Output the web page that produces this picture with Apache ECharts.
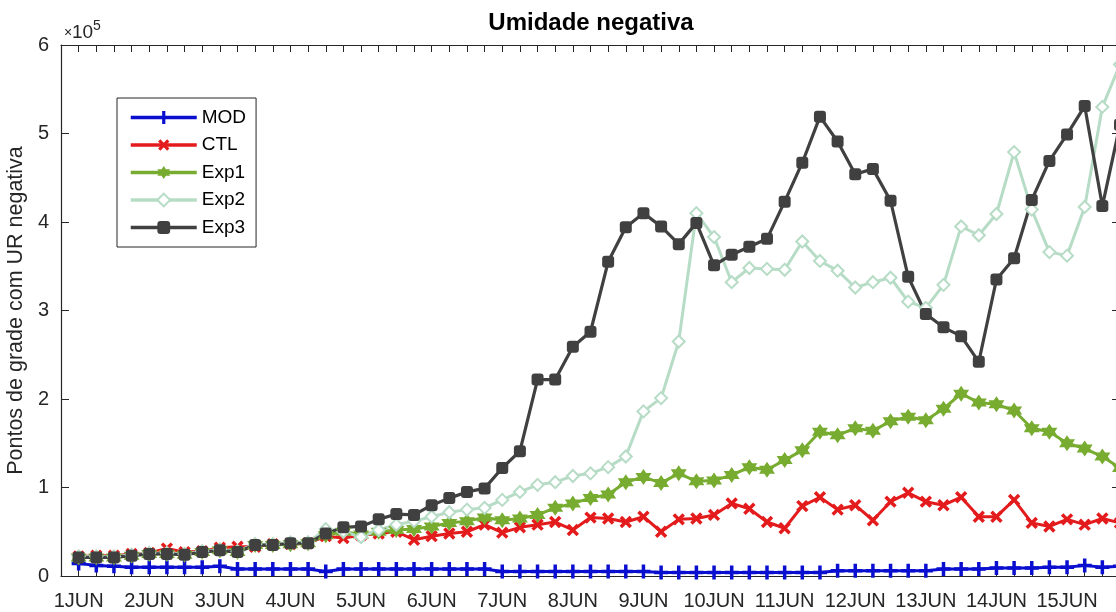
<!DOCTYPE html>
<html>
<head>
<meta charset="utf-8">
<title>Umidade negativa</title>
<script src="https://cdn.jsdelivr.net/npm/echarts@6/dist/echarts.min.js"></script>
<style>
  html, body { margin: 0; padding: 0; background: #fff; overflow: hidden; }
  #main { width: 1130px; height: 612px; }
</style>
</head>
<body>
<div id="main"></div>
<script>
// Day labels, one every 4 six-hourly steps (00Z of each day)
const dayLabels = ['1JUN', '2JUN', '3JUN', '4JUN', '5JUN', '6JUN', '7JUN', '8JUN',
  '9JUN', '10JUN', '11JUN', '12JUN', '13JUN', '14JUN', '15JUN'];

// Grid points with negative relative humidity, every 6 h (1JUN 00Z .. 15JUN 18Z)
const mod = [14000, 12000, 11000, 10000, 10000, 10000, 10000, 10000, 11000, 8000,
  8000, 8000, 8000, 8000, 5000, 8000, 8000, 8000, 8000, 8000,
  8000, 8000, 8000, 8000, 5000, 5000, 5000, 5000, 5000, 5000,
  5000, 5000, 5000, 4000, 4000, 4000, 4000, 4000, 4000, 4000,
  4000, 4000, 4000, 6000, 6000, 6000, 6000, 6000, 6000, 8000,
  8000, 8000, 9000, 9000, 9000, 10000, 10000, 12000, 10000, 11000];

const ctl = [22000, 23000, 23000, 25000, 26000, 31000, 27000, 28000, 32000, 33000,
  33000, 36000, 36000, 37000, 45000, 43000, 46000, 48000, 50000, 41000,
  45000, 48000, 50000, 58000, 49000, 55000, 58000, 61000, 52000, 66000,
  65000, 61000, 67000, 50000, 64000, 65000, 69000, 82000, 76000, 61000,
  54000, 79000, 89000, 75000, 80000, 63000, 84000, 94000, 84000, 80000,
  89000, 67000, 67000, 86000, 60000, 56000, 64000, 58000, 65000, 60000];

const exp1 = [21000, 21000, 21000, 23000, 25000, 25000, 24000, 27000, 29000, 27000,
  35000, 35000, 36000, 37000, 46000, 50000, 47000, 50000, 52000, 53000,
  56000, 60000, 62000, 66000, 63000, 65000, 69000, 77000, 82000, 88000,
  92000, 106000, 112000, 105000, 116000, 107000, 108000, 114000, 123000, 120000,
  131000, 142000, 163000, 159000, 167000, 164000, 175000, 180000, 176000, 189000,
  206000, 196000, 194000, 187000, 167000, 163000, 150000, 144000, 135000, 122000];

const exp2 = [22000, 22000, 22000, 24000, 26000, 26000, 25000, 28000, 30000, 28000,
  36000, 36000, 38000, 38000, 53000, 50000, 44000, 52000, 58000, 62000,
  67000, 72000, 75000, 77000, 86000, 95000, 103000, 106000, 113000, 116000,
  123000, 135000, 186000, 201000, 265000, 410000, 383000, 332000, 348000, 347000,
  346000, 378000, 356000, 345000, 326000, 332000, 337000, 310000, 303000, 329000,
  395000, 385000, 409000, 479000, 414000, 366000, 362000, 417000, 530000, 578000];

const exp3 = [21000, 21000, 21000, 23000, 25000, 25000, 24000, 27000, 29000, 27000,
  35000, 35000, 37000, 37000, 48000, 55000, 56000, 64000, 70000, 69000,
  80000, 88000, 95000, 99000, 122000, 141000, 222000, 222000, 259000, 276000,
  355000, 394000, 410000, 395000, 375000, 399000, 351000, 363000, 372000, 381000,
  423000, 467000, 519000, 491000, 454000, 460000, 424000, 338000, 296000, 281000,
  271000, 242000, 335000, 359000, 425000, 469000, 499000, 531000, 418000, 510000];

const FONT = '"Liberation Sans", Arial, Helvetica, sans-serif';
const AXIS_COLOR = '#262626';

// marker shapes
const PLUS = 'path://M4.5,0H7.5V4.5H12V7.5H7.5V12H4.5V7.5H0V4.5H4.5Z';
const HEXAGRAM = 'path://M5,0L6.5,2.5L9.4,2.5L8,5L9.4,7.5L6.5,7.5L5,10L3.5,7.5L0.6,7.5L2,5L0.6,2.5L3.5,2.5Z';

const toPoints = arr => arr.map((v, i) => [i + 1, v]);

function makeSeries(name, values, color, symbol, size, opts) {
  return Object.assign({
    name: name,
    type: 'line',
    data: toPoints(values),
    symbol: symbol,
    symbolSize: size,
    showAllSymbol: true,
    lineStyle: { color: color, width: 3 },
    itemStyle: { color: color, borderColor: color, borderWidth: 0, opacity: 1 },
    emphasis: { disabled: true },
    animation: false,
    z: 2
  }, opts || {});
}

const series = [
  makeSeries('MOD', mod, '#0a0fcf', PLUS, 14),
  makeSeries('CTL', ctl, '#e31b1c', PLUS, 14, { symbolRotate: 45 }),
  makeSeries('Exp1', exp1, '#77ac30', HEXAGRAM, 16),
  makeSeries('Exp2', exp2, '#b7dcc6', 'emptyDiamond', 12, {
    itemStyle: { color: '#b7dcc6', borderColor: '#b7dcc6', borderWidth: 2.5 }
  }),
  makeSeries('Exp3', exp3, '#404040', 'roundRect', 12, {
    lineStyle: { color: '#404040', width: 3.2 }
  })
];

const tickLabel = v => {
  const k = v - 1;
  if (k >= 0 && k % 4 === 0 && k / 4 < dayLabels.length) return dayLabels[k / 4];
  return '';
};

const baseX = {
  type: 'value', min: 0, max: 60, interval: 1,
  axisLine: { show: true, onZero: false, lineStyle: { color: AXIS_COLOR, width: 1.2 } },
  axisTick: { show: true, inside: true, length: 7, lineStyle: { color: AXIS_COLOR, width: 1 } },
  splitLine: { show: false }
};
const baseY = {
  type: 'value', min: 0, max: 600000, interval: 100000,
  axisLine: { show: true, onZero: false, lineStyle: { color: AXIS_COLOR, width: 1.2 } },
  axisTick: { show: true, inside: true, length: 8, lineStyle: { color: AXIS_COLOR, width: 1 } },
  splitLine: { show: false }
};

const option = {
  backgroundColor: '#fff',
  animation: false,
  grid: { left: 61, right: 10, top: 45, bottom: 36, containLabel: false, outerBoundsMode: 'none' },
  xAxis: [
    Object.assign({}, baseX, {
      position: 'bottom',
      axisLabel: { show: true, formatter: tickLabel, fontSize: 20, fontFamily: FONT, color: AXIS_COLOR, margin: 15, showMinLabel: true, showMaxLabel: true }
    }),
    Object.assign({}, baseX, { position: 'top', axisLabel: { show: false } })
  ],
  yAxis: [
    Object.assign({}, baseY, {
      position: 'left',
      name: 'Pontos de grade com UR negativa',
      nameLocation: 'middle',
      nameGap: 27,
      nameRotate: 90,
      nameTextStyle: { fontSize: 21.5, fontFamily: FONT, color: AXIS_COLOR },
      axisLabel: { formatter: v => String(v / 100000), fontSize: 20, fontFamily: FONT, color: AXIS_COLOR, margin: 12 }
    }),
    Object.assign({}, baseY, { position: 'right', axisLabel: { show: false } })
  ],
  legend: {
    orient: 'vertical',
    left: 117,
    top: 98,
    padding: [10, 10, 10, 12],
    itemGap: 8.5,
    itemWidth: 66,
    itemHeight: 16,
    backgroundColor: '#fff',
    borderColor: AXIS_COLOR,
    borderWidth: 1,
    borderRadius: 0,
    selectedMode: false,
    lineStyle: { width: 3.5 },
    textStyle: { fontSize: 19, fontFamily: FONT, color: '#000' },
    data: ['MOD', 'CTL', 'Exp1', 'Exp2', 'Exp3']
  },
  graphic: [
    {
      type: 'text', x: 591, y: 23,
      style: { text: 'Umidade negativa', font: 'bold 24px ' + FONT, fill: '#000', align: 'center', verticalAlign: 'middle' }
    },
    {
      type: 'text', x: 64, y: 40,
      style: { text: '×', font: '14px ' + FONT, fill: AXIS_COLOR, align: 'left', verticalAlign: 'bottom' }
    },
    {
      type: 'text', x: 72, y: 42,
      style: { text: '10', font: '19px ' + FONT, fill: AXIS_COLOR, align: 'left', verticalAlign: 'bottom' }
    },
    {
      type: 'text', x: 93, y: 19,
      style: { text: '5', font: '14px ' + FONT, fill: AXIS_COLOR, align: 'left', verticalAlign: 'top' }
    }
  ],
  series: series
};

const chart = echarts.init(document.getElementById('main'), null, { renderer: 'canvas' });
chart.setOption(option);
</script>
</body>
</html>
